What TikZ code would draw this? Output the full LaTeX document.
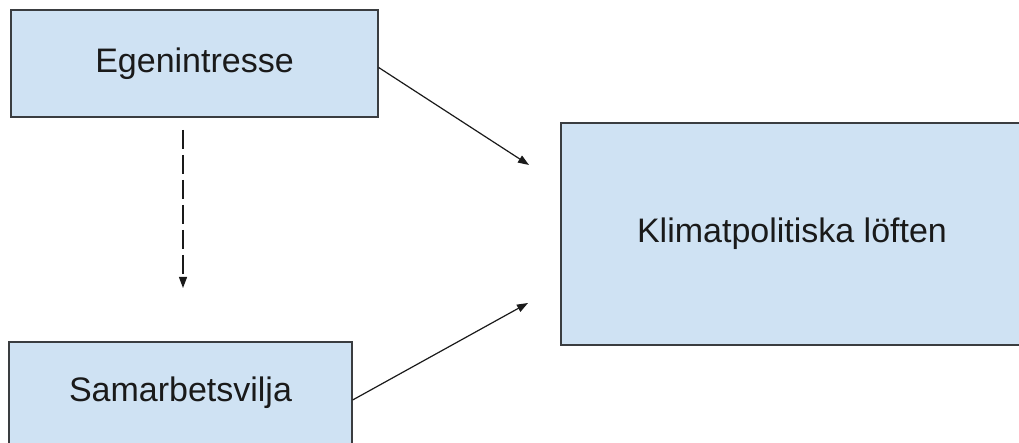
\documentclass[tikz,border=0pt]{standalone}
\usepackage{fontspec}
\setmainfont{Liberation Sans}
\usetikzlibrary{arrows.meta}
\definecolor{boxfill}{HTML}{CFE2F3}
\definecolor{boxline}{HTML}{3A3D40}
\definecolor{txt}{HTML}{1A1A1A}
\begin{document}
\begin{tikzpicture}[x=1pt,y=1pt,
  box/.style={draw=boxline,line width=1.3pt,fill=boxfill,inner sep=0pt,
    text=txt,font=\fontsize{34}{40}\selectfont},
  conn/.style={draw=txt,line width=1.2pt,-{Triangle[length=11pt,width=8pt]}}]
\useasboundingbox (0,0) rectangle (1019,443);
\fill[white] (0,0) rectangle (1019,443);
\begin{scope}
\clip (0,0) rectangle (1019,443);
\node[box,minimum width=367pt,minimum height=107pt] (ego) at (194.5,379.5) {Egenintresse};
\node[box,minimum width=343pt,minimum height=102pt] (sam) at (180.5,50) {Samarbetsvilja};
\node[box,minimum width=462pt,minimum height=222pt] (klim) at (792,209) {Klimatpolitiska löften};
\end{scope}
\coordinate (e1) at (529,278);
\coordinate (e2) at (528,140);
\coordinate (ds) at (183,313);
\coordinate (de) at (183,155);
\draw[conn] ([yshift=-4pt]ego.east) -- (e1);
\draw[conn] ([yshift=-7pt]sam.east) -- (e2);
\draw[conn,dash pattern=on 19pt off 6pt] (ds) -- (de);
\end{tikzpicture}
\end{document}
